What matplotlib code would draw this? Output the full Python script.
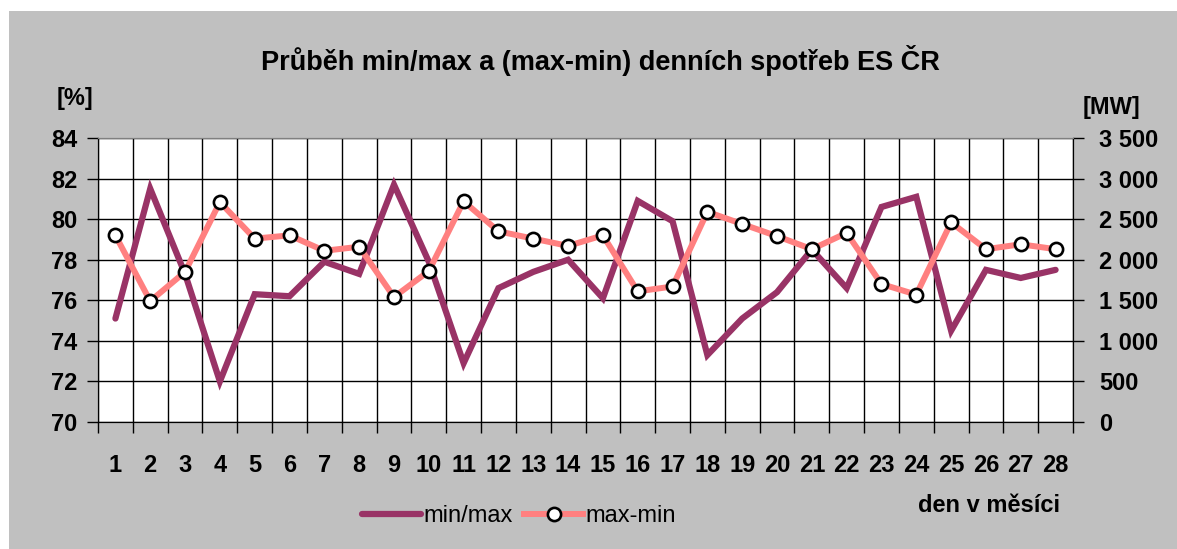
import matplotlib
matplotlib.use("Agg")
import matplotlib.pyplot as plt
from matplotlib.patches import Rectangle
from matplotlib.ticker import FuncFormatter

# den v mesici
dny = list(range(1, 29))
# min/max [%]
min_max = [75.1, 81.5, 77.3, 72.0, 76.3, 76.2, 77.9, 77.3, 81.7, 77.9,
           72.9, 76.6, 77.4, 78.0, 76.1, 80.9, 79.9, 73.3, 75.1, 76.4,
           78.5, 76.6, 80.6, 81.1, 74.5, 77.5, 77.1, 77.5]
# max-min [MW]
max_minus_min = [2300, 1490, 1850, 2710, 2260, 2300, 2110, 2160, 1540, 1860,
                 2720, 2350, 2260, 2170, 2300, 1610, 1670, 2590, 2440, 2290,
                 2130, 2330, 1700, 1570, 2460, 2130, 2190, 2130]

plt.rcParams["font.family"] = ["Liberation Sans", "DejaVu Sans"]

fig = plt.figure(figsize=(11.77, 5.49), dpi=100, facecolor="white")
fig.patches.append(Rectangle((9 / 1177, 0.0), 1.0, 1 - 11 / 549,
                             transform=fig.transFigure, facecolor="#C0C0C0",
                             edgecolor="none", zorder=-10))

ax = fig.add_axes([98 / 1177, 1 - 422 / 549, (1073 - 98) / 1177, (422 - 138) / 549])
ax.set_facecolor("white")
ax2 = ax.twinx()

l1, = ax.plot(dny, min_max, color="#993366", lw=4.5, solid_capstyle="round",
              solid_joinstyle="miter", label="min/max", zorder=3)
l2, = ax2.plot(dny, max_minus_min, color="#FF8080", lw=4.3, marker="o",
               markersize=9.5, markerfacecolor="white", markeredgecolor="black",
               markeredgewidth=1.9, label="max-min", zorder=4)

ax.set_xlim(0.5, 28.5)
ax.set_ylim(70, 84)
ax2.set_ylim(0, 3500)
ax.set_yticks(range(70, 85, 2))
ax2.set_yticks(range(0, 3501, 500))
ax2.yaxis.set_major_formatter(FuncFormatter(lambda v, p: f"{int(v):,}".replace(",", " ")))

ax.set_xticks(dny)
ax.set_xticks([d + 0.5 for d in range(0, 29)], minor=True)
ax.tick_params(axis="x", which="major", length=0, pad=23, labelsize=17)
ax.tick_params(axis="x", which="minor", length=8, direction="out", width=1)
ax.tick_params(axis="y", length=8, direction="out", width=1, labelsize=17, pad=7)
ax2.tick_params(axis="y", length=8, direction="out", width=1, labelsize=17, pad=11)
for lab in ax.get_xticklabels() + ax.get_yticklabels() + ax2.get_yticklabels():
    lab.set_fontweight("bold")

ax.grid(True, axis="y", which="major", color="black", lw=1)
ax.grid(True, axis="x", which="minor", color="black", lw=1)
ax.set_axisbelow(True)
for sp in ["left", "right", "bottom"]:
    ax.spines[sp].set_color("black")
    ax2.spines[sp].set_color("black")
ax.spines["top"].set_color("#808080")
ax2.spines["top"].set_color("#808080")

fig.text(600 / 1177, 1 - 60 / 549, "Průběh min/max a (max-min) denních spotřeb ES ČR",
         ha="center", va="center", fontsize=19.5, fontweight="bold")
fig.text(75 / 1177, 1 - 98 / 549, "[%]", ha="center", va="center",
         fontsize=17, fontweight="bold")
fig.text(1112 / 1177, 1 - 107 / 549, "[MW]", ha="center", va="center",
         fontsize=17, fontweight="bold")
fig.text(989 / 1177, 1 - 506 / 549, "den v měsíci", ha="center", va="center",
         fontsize=17, fontweight="bold")

fig.legend([l1, l2], ["min/max", "max-min"], loc="center",
           bbox_to_anchor=(519 / 1177, 1 - 516 / 549), ncol=2, frameon=False,
           fontsize=17, handlelength=2.5, handletextpad=0.1, columnspacing=0.5)

fig.savefig("out.png", dpi=100, facecolor=fig.get_facecolor())
